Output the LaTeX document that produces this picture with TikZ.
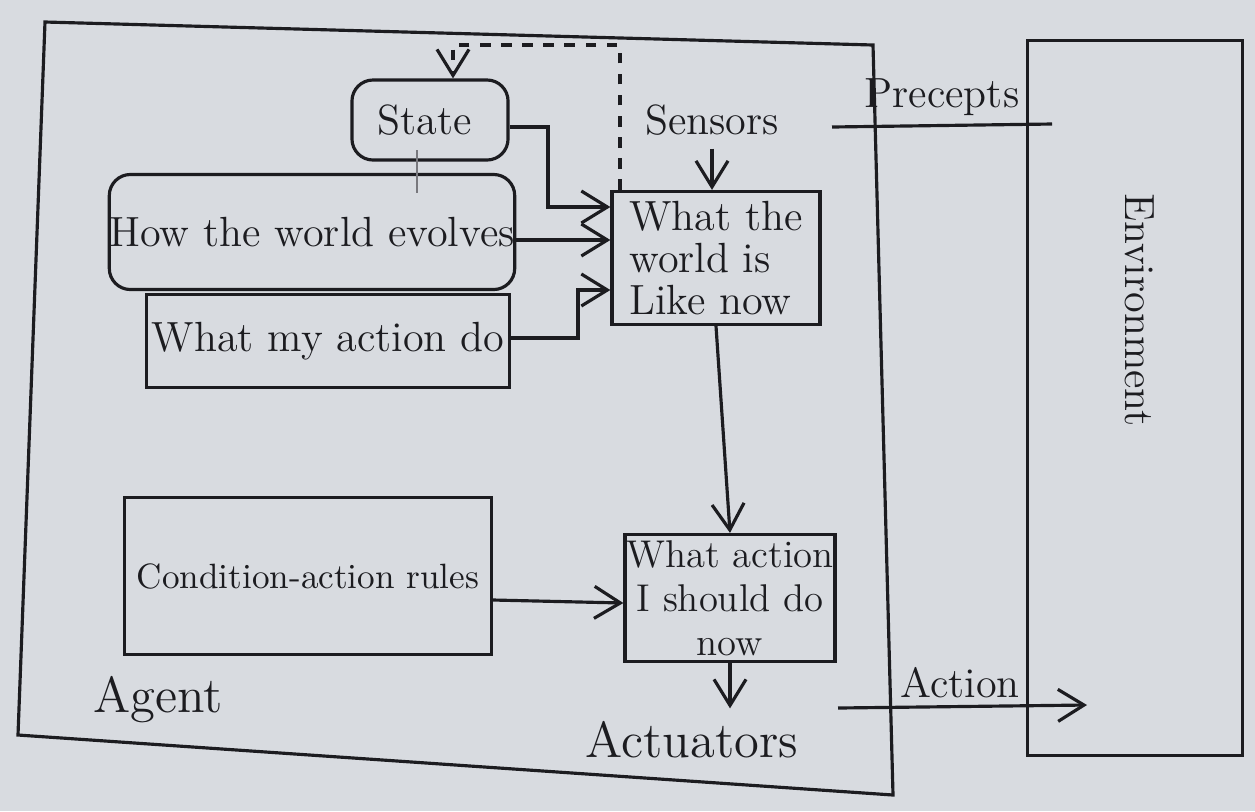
\documentclass[tikz,border=0pt]{standalone}
\usepackage{xcolor}
\usepackage{tikz}
\usetikzlibrary{arrows.meta,calc}
\definecolor{paper}{RGB}{216,219,224}
\definecolor{ink}{RGB}{28,28,32}
\definecolor{pencil}{RGB}{120,120,125}

\begin{document}
\begin{tikzpicture}[x=0.01cm, y=-0.01cm, ink, line width=0.9pt,
    box/.style={draw, rectangle, rounded corners=6pt, inner sep=0pt},
    flat/.style={draw, rectangle, inner sep=0pt},
    arr/.style={-{Straight Barb[length=2.6mm, width=3.2mm]}},
    lbl/.style={font=\large}]
    % Paper
    \fill[paper] (0,0) rectangle (1255,811);
    \useasboundingbox (0,0) rectangle (1255,811);
    % Agent frame
    \draw (45,22) -- (873,45) -- (893,795) -- (18,735) -- cycle;
    % Environment
    \node[flat, minimum width=2.15cm, minimum height=7.15cm] (env) at (1135,398) {};
    \node[rotate=-90, font=\large] (envtxt) at (1140,310) {Environment};
    % Boxes on the left
    \node[box, minimum width=1.56cm, minimum height=0.8cm] (state) at (430,120) {};
    \node[anchor=west] at (state.west) {\large~State};
    \node[box, minimum width=3.95cm, minimum height=1.15cm] (evolves) at (312,232) {\large How the world evolves};
    \node[flat, minimum width=3.63cm, minimum height=0.93cm] (actdo) at (328,341) {\large What my action do};
    \node[flat, minimum width=3.67cm, minimum height=1.57cm] (rules) at (308,576) {Condition-action rules};
    % Boxes on the right
    \node[flat, minimum width=2.08cm, minimum height=1.33cm, align=left] (world) at (716,258) {\large What the\\\large world is\\\large Like now};
    \node[flat, minimum width=2.1cm, minimum height=1.27cm, align=center,
          font=\fontsize{11pt}{12.5pt}\selectfont] (whatact) at (730,598) {What action\\I should do\\now};
    % Labels
    \node[lbl] (sensors) at (712,120) {Sensors};
    \node[font=\Large] (actuators) at (692,740) {Actuators};
    \node[font=\Large] (agent) at (158,700) {Agent};
    \node[lbl] (percepts) at (942,97) {Precepts};
    \node[lbl] (action) at (960,683) {Action};
    \coordinate (pin) at (832,127);
    \coordinate (pout) at (1052,124);
    \coordinate (ain) at (838,708);
    \coordinate (aout) at (1087,705);
    % Connectors
    \draw (pin) -- (pout);
    \draw[arr] (ain) -- (aout);
    \draw[arr] (sensors.south) -- (world.north -| sensors.south);
    \draw[arr] (whatact.south) -- (whatact.south |- actuators.north);
    \draw[arr] (world.south) -- (whatact.north);
    \draw[arr] (state.east |- 0,127) -| (548,207) -- (world.west |- 0,207);
    \draw[arr] (evolves.east |- 0,240) -- (world.west |- 0,240);
    \draw[arr] (actdo.east |- 0,338) -| (578,290) -- (world.west |- 0,290);
    \draw[arr] ($(rules.east)+(0,24)$) -- ($(whatact.west)+(0,5)$);
    \draw[arr, dashed] (world.north west -| 620,0) |- (453,45) -- (state.north -| 453,0);
    \draw[pencil, line width=0.6pt] (417,150) -- (417,193);
\end{tikzpicture}
\end{document}
